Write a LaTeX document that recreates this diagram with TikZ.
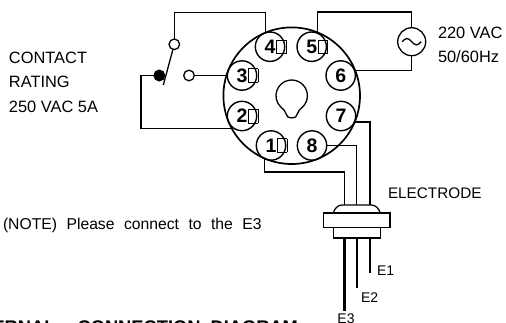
\documentclass[tikz,border=0pt]{standalone}
\usepackage{fontspec}
\setmainfont{Liberation Sans}
\usepackage{xcolor}
\usetikzlibrary{positioning}
\newcommand{\tofubox}{\rlap{\hspace{0.8pt}\setlength{\fboxsep}{0pt}\setlength{\fboxrule}{0.7pt}\fbox{\rule{0pt}{13pt}\hspace{8.6pt}}}}

\begin{document}
\begin{tikzpicture}[x=1pt,y=-1pt,
    wire/.style={line width=1.3pt},
    probe/.style={line width=2.4pt},
    pin/.style={draw,circle,line width=1.4pt,minimum size=29.4pt,inner sep=0pt,outer sep=0pt,font=\fontsize{19.5}{20}\selectfont\bfseries},
    contact/.style={draw,circle,line width=1.3pt,minimum size=10.6pt,inner sep=0pt,outer sep=0pt},
    label/.style={inner sep=0pt,outer sep=0pt,align=left,anchor=west,font=\fontsize{16.4}{24.5}\selectfont},
    probelabel/.style={inner sep=0pt,outer sep=0pt,font=\fontsize{14}{15}\selectfont}]
    \useasboundingbox (0,0) rectangle (506,322);
    \clip (0,0) rectangle (506,322);
    \node[draw,circle,line width=1.7pt,minimum size=136.6pt,inner sep=0pt,outer sep=0pt] (disc) at (291.7,95.7) {};
    \node[pin] (pin4) at (270,46.7) {4\tofubox};
    \node[pin] (pin5) at (311.7,46.7) {5\tofubox};
    \node[pin] (pin3) at (242,75.5) {3\tofubox};
    \node[pin] (pin6) at (340.7,75.5) {6};
    \node[pin] (pin2) at (242,116) {2\tofubox};
    \node[pin] (pin7) at (341,116) {7};
    \node[pin] (pin1) at (271,145.5) {1\tofubox};
    \node[pin] (pin8) at (312,145.5) {8};
    \draw[wire,shift={(291.7,95.7)}] (10.7,11.5) arc (47:-227:15.7)
        .. controls (-8.5,14.5) and (-6,14.5) .. (-5.7,18)
        .. controls (-5.5,21) and (-3,22.3) .. (0,22.3)
        .. controls (3,22.3) and (5.5,21) .. (5.7,18)
        .. controls (6,14.5) and (8.5,14.5) .. (10.7,11.5);
    \node[contact] (conUp) at (174.3,44.3) {};
    \node[contact] (conNO) at (189,75.5) {};
    \node[contact,fill=black] (conCom) at (159.3,75.5) {};
    \coordinate (armEnd) at (163.3,85);
    \draw[wire] (conUp) -- (armEnd);
    \node[draw,circle,line width=1.3pt,minimum size=28pt,inner sep=0pt,outer sep=0pt] (acSrc) at (411.7,41.7) {};
    \draw[wire] (acSrc.center) ++(-9.5,0) sin ++(4.75,-3.2) cos ++(4.75,3.2) sin ++(4.75,3.2) cos ++(4.75,-3.2);
    \draw[wire] (conUp.north) -- ++(0,-26.5) -| (pin4.107);
    \draw[wire] (conNO.east) -- (pin3.west);
    \draw[wire] (conCom.west) -- ++(-13,0) |- (disc.209);
    \draw[wire] (pin5.68) -- ++(0,-21) -| (acSrc.north);
    \draw[wire] (acSrc.south) |- (pin6.20);
    \node[draw,line width=1.3pt,minimum width=66.7pt,minimum height=14.3pt,inner sep=0pt,outer sep=0pt] (flange) at (356.7,220.2) {};
    \node[draw,line width=1.3pt,minimum width=47pt,minimum height=10.5pt,inner sep=0pt,outer sep=0pt,below=0pt of flange] (plug) {};
    \draw[wire] (333.2,213) .. controls (334.5,208.5) and (338,205) .. (342,205) -- (371.5,205)
        .. controls (375.5,205) and (379,208.5) .. (380.2,213);
    \coordinate (leadA) at (344.3,205);
    \coordinate (leadB) at (356.7,205);
    \coordinate (leadC) at (370,205);
    \draw[wire] (pin1.243) -- ++(0,13.5) -| (leadA);
    \draw[wire] (pin8.east) -| (leadB);
    \draw[wire] (pin7.-24) -| (leadC);
    \coordinate (tipE1) at (370,272.7);
    \coordinate (tipE2) at (356.7,288);
    \coordinate (tipE3) at (344.3,310.7);
    \draw[probe] (plug.south -| tipE1) -- (tipE1);
    \draw[probe] (plug.south -| tipE2) -- (tipE2);
    \draw[probe] (plug.south -| tipE3) -- (tipE3);
    \node[probelabel] (labE1) at (385.7,271) {E1};
    \node[probelabel] (labE2) at (369.7,297.3) {E2};
    \node[probelabel] (labE3) at (346,319) {E3};
    \node[label] (rating) at (9,82) {CONTACT\\RATING\\250 VAC 5A};
    \node[label] (supply) at (438,45) {220 VAC\\[-1pt]50/60Hz};
    \node[label,font=\fontsize{15.3}{16}\selectfont] (electrode) at (388,193) {ELECTRODE};
    \node[label,font=\fontsize{15.7}{16}\selectfont] (note) at (3,225) {\spaceskip=9.5pt (NOTE) Please connect to the E3};
    \node[inner sep=0pt,outer sep=0pt,anchor=base east,font=\fontsize{18.3}{19}\selectfont\bfseries] (title) at (298,333) {EXTERNAL\hspace{22pt}CONNECTION\hspace{10pt}DIAGRAM};
\end{tikzpicture}
\end{document}
